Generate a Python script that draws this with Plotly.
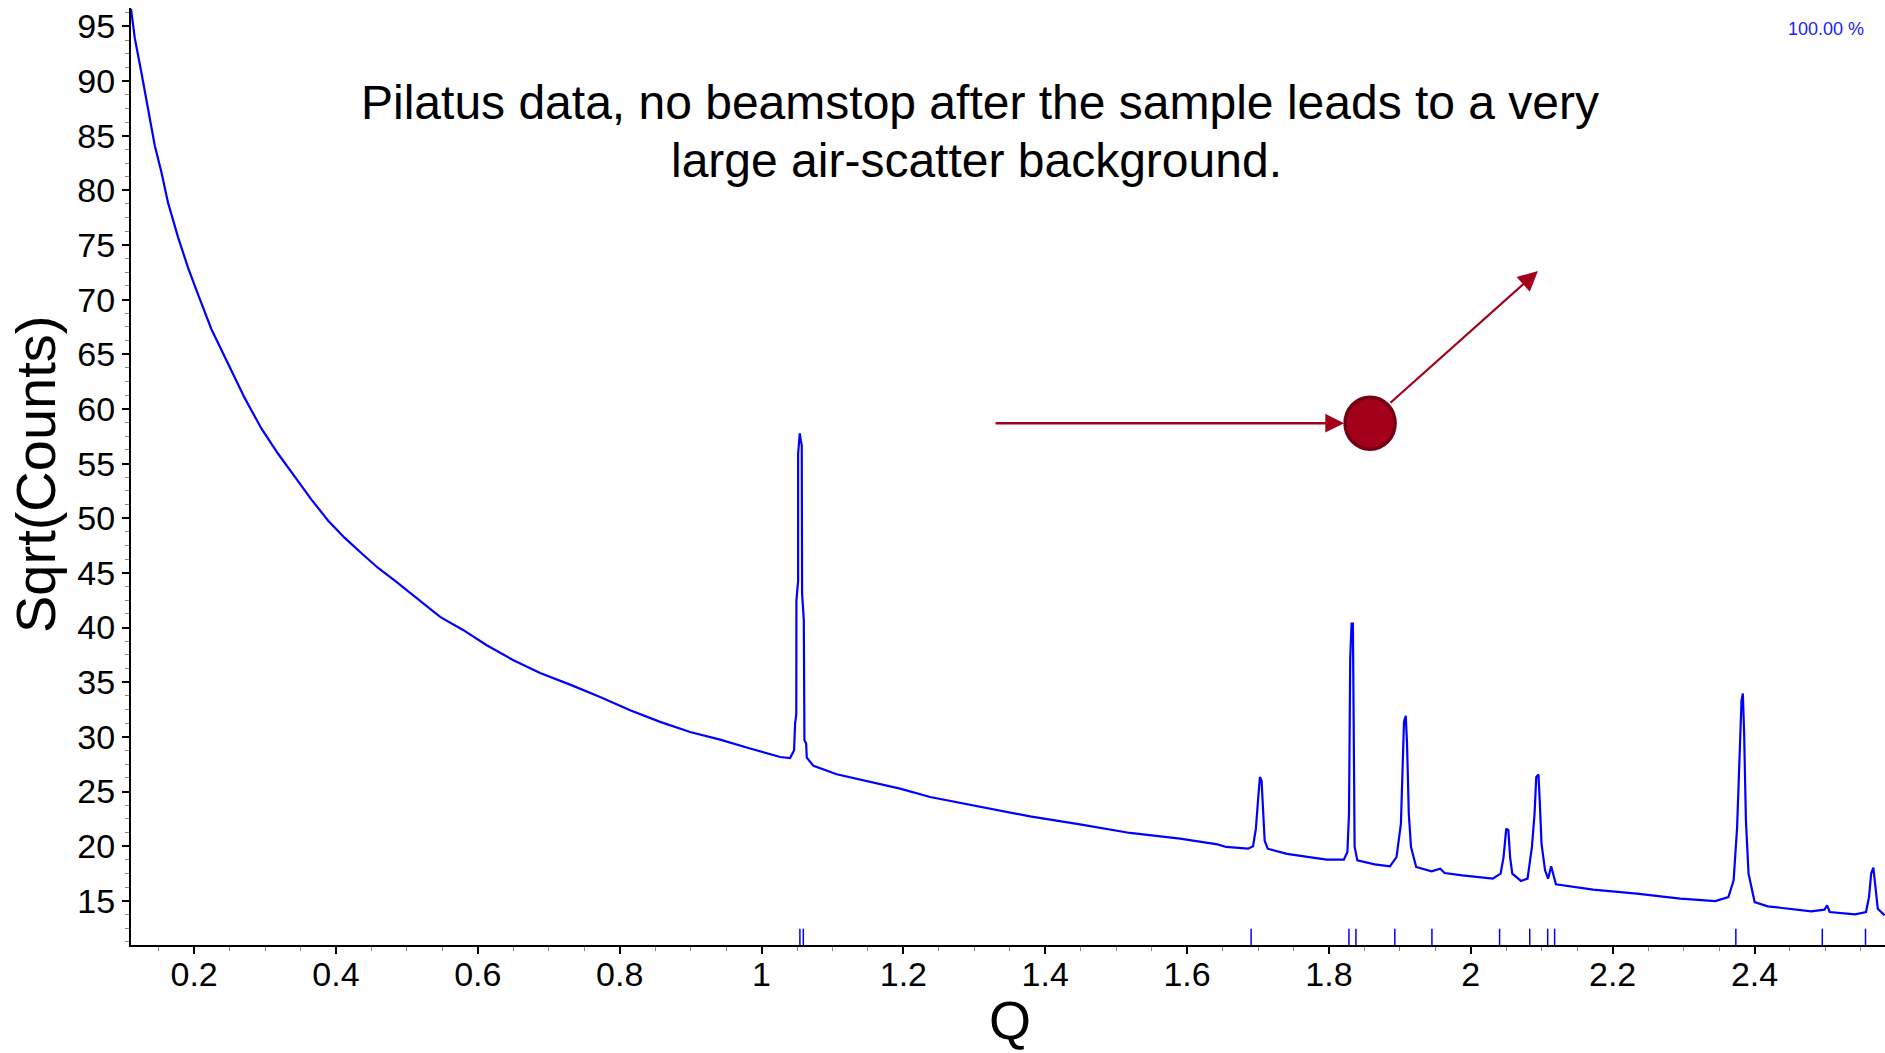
import plotly.graph_objects as go

# ---- data ----
q = [0.111, 0.1164, 0.1257, 0.1351, 0.1445, 0.1539, 0.1633, 0.1774, 0.1915, 0.2056,
     0.2244, 0.2479, 0.2714, 0.295, 0.3184, 0.3419, 0.3654, 0.389, 0.4124, 0.436,
     0.4594, 0.483, 0.5186, 0.5468, 0.5797, 0.6126, 0.6502, 0.6878, 0.7301, 0.7724,
     0.8147, 0.857, 0.8993, 0.9416, 0.9839, 1.0262, 1.0403, 1.0459, 1.0473, 1.0490,
     1.0492, 1.0516, 1.0516, 1.0539, 1.0553, 1.0567, 1.0572, 1.0596, 1.0605, 1.0629,
     1.0638, 1.0732, 1.106, 1.153, 1.1953, 1.2377, 1.3081, 1.3786, 1.449, 1.5196,
     1.59, 1.618, 1.643, 1.655, 1.686, 1.693, 1.697, 1.700, 1.7027, 1.705,
     1.707, 1.7094, 1.7137, 1.741, 1.772, 1.797, 1.821, 1.826, 1.8283, 1.830,
     1.8319, 1.8338, 1.8344, 1.8362, 1.840, 1.8646, 1.886, 1.8953, 1.9015, 1.9034,
     1.9058, 1.9083, 1.9101, 1.9126, 1.9157, 1.923, 1.9446, 1.957, 1.963, 1.988,
     2.031, 2.042, 2.0462, 2.050, 2.053, 2.0554, 2.0585, 2.0708, 2.080, 2.0862,
     2.0899, 2.0923, 2.0954, 2.0973, 2.0997, 2.1047, 2.109, 2.1133, 2.1157, 2.120,
     2.1724, 2.234, 2.2955, 2.3448, 2.3632, 2.3706, 2.3755, 2.3792, 2.3817, 2.3836,
     2.3854, 2.3879, 2.3916, 2.4002, 2.4187, 2.480, 2.4987, 2.5024, 2.506, 2.5418,
     2.5572, 2.5615, 2.5645, 2.5676, 2.570, 2.5738, 2.5836]
sqrt_counts = [96.6, 93.9, 90.76, 87.26, 84.1, 81.65, 78.85, 75.7, 72.9, 70.45,
               67.29, 64.14, 60.99, 58.19, 55.9, 53.81, 51.71, 49.78, 48.2, 46.8,
               45.45, 44.3, 42.4, 40.98, 39.76, 38.38, 37.01, 35.85, 34.78, 33.65,
               32.43, 31.37, 30.45, 29.75, 28.93, 28.16, 28.07, 28.78, 31.2, 32.1,
               42.5, 44.3, 55.9, 57.76, 57.15, 56.7, 43.1, 40.7, 29.7, 29.4,
               28.1, 27.35, 26.58, 25.88, 25.27, 24.5, 23.65, 22.73, 22.0, 21.21,
               20.69, 20.38, 20.17, 19.93, 19.77, 20.0, 21.6, 24.2, 26.33, 26.0,
               22.8, 20.5, 19.77, 19.3, 19.0, 18.77, 18.77, 19.47, 22.97, 37.16,
               40.37, 40.37, 35.18, 19.93, 18.7, 18.34, 18.16, 19.0, 22.06, 26.64,
               31.37, 31.92, 29.38, 22.97, 19.93, 18.1, 17.7, 17.94, 17.55, 17.33,
               17.03, 17.49, 19.0, 21.6, 21.45, 19.0, 17.49, 16.82, 17.03, 19.93,
               22.97, 26.33, 26.55, 24.05, 20.23, 17.79, 17.03, 18.16, 17.49, 16.51,
               16.02, 15.66, 15.2, 14.98, 15.35, 16.87, 21.75, 27.86, 33.35, 33.96,
               30.3, 22.37, 17.49, 14.89, 14.5, 14.04, 14.19, 14.59, 13.98, 13.76,
               13.98, 15.35, 17.49, 18.03, 16.57, 14.28, 13.67]
reflections = [1.0541, 1.0589, 1.6903, 1.8282, 1.8381, 1.8929, 1.9452, 2.0406,
               2.0831, 2.1084, 2.1182, 2.3737, 2.4956, 2.5565]

x_range = [0.111, 2.584]
y_range = [10.96, 96.68]
REFL_TOP = 12.45

title_lines = ["Pilatus data, no beamstop after the sample leads to a very",
               "large air-scatter background."]

FONT = "Liberation Sans, Arial, sans-serif"
RED = "#a3001c"

W, H = 1885, 1053
ML, MR, MT, MB = 131, 0, 8, 108
PW, PH = W - ML - MR, H - MT - MB


def px(fx):
    return (fx - ML) / PW


def py(fy):
    return (H - MB - fy) / PH


fig = go.Figure()
fig.add_trace(go.Scatter(x=q, y=sqrt_counts, mode="lines",
                         line=dict(color="#0000ff", width=2.2), hoverinfo="skip"))

rx, ry = [], []
for r in reflections:
    rx += [r, r, None]
    ry += [y_range[0], REFL_TOP, None]
fig.add_trace(go.Scatter(x=rx, y=ry, mode="lines",
                         line=dict(color="#0000ff", width=1.5), hoverinfo="skip"))

axis_common = dict(showline=True, linecolor="black", linewidth=2, ticks="outside",
                   ticklen=7, tickwidth=2, tickcolor="black", showgrid=False,
                   zeroline=False, tickfont=dict(family=FONT, size=34, color="black"))

fig.update_layout(
    width=W, height=H, autosize=False,
    margin=dict(l=ML, r=MR, t=MT, b=MB, pad=0),
    paper_bgcolor="white", plot_bgcolor="white",
    showlegend=False,
    font=dict(family=FONT, color="black"),
    xaxis=dict(range=x_range, dtick=0.2, tick0=0, ticklabelstandoff=-9, **axis_common,
               minor=dict(dtick=0.05, ticks="outside", ticklen=4, tickwidth=1,
                          tickcolor="#888888", showgrid=False)),
    yaxis=dict(range=y_range, dtick=5, tick0=0, **axis_common,
               minor=dict(dtick=1.25, ticks="outside", ticklen=4, tickwidth=1,
                          tickcolor="#888888", showgrid=False)),
)

ann = []
ann.append(dict(text=title_lines[0], xref="paper", yref="paper", x=px(980), y=py(102),
                xanchor="center", yanchor="middle", showarrow=False,
                font=dict(family=FONT, size=48, color="black")))
ann.append(dict(text=title_lines[1], xref="paper", yref="paper", x=px(976), y=py(160),
                xanchor="center", yanchor="middle", showarrow=False,
                font=dict(family=FONT, size=48, color="black")))
ann.append(dict(text="Sqrt(Counts)", xref="paper", yref="paper", x=px(36), y=py(475),
                xanchor="center", yanchor="middle", showarrow=False, textangle=-90,
                font=dict(family=FONT, size=56, color="black")))
ann.append(dict(text="Q", xref="paper", yref="paper", x=px(1010), y=py(1020),
                xanchor="center", yanchor="middle", showarrow=False,
                font=dict(family=FONT, size=54, color="black")))
ann.append(dict(text="100.00 %", xref="paper", yref="paper", x=px(1866), y=py(29),
                xanchor="right", yanchor="middle", showarrow=False,
                font=dict(family=FONT, size=18, color="#2020ff")))
# horizontal arrow into the circle
ann.append(dict(x=1.8213, y=58.70, xref="x", yref="y", ax=-350, ay=0,
                axref="pixel", ayref="pixel", text="", showarrow=True,
                arrowhead=2, arrowsize=1.5, arrowwidth=2.5, arrowcolor=RED, standoff=0))
# diagonal arrow out of the circle
ann.append(dict(x=2.0947, y=72.61, xref="x", yref="y", ax=-149, ay=133,
                axref="pixel", ayref="pixel", text="", showarrow=True,
                arrowhead=2, arrowsize=1.8, arrowwidth=2.2, arrowcolor=RED, standoff=0))
fig.update_layout(annotations=ann)

fig.add_shape(type="circle", xref="x", yref="y", xsizemode="pixel", ysizemode="pixel",
              xanchor=1.858, yanchor=58.70, x0=-25, x1=25, y0=-26, y1=26,
              fillcolor=RED, line=dict(color="#740014", width=3.5))

fig.write_html("out.html", config={"displayModeBar": False},
               post_script="document.body.style.margin='0px';")
